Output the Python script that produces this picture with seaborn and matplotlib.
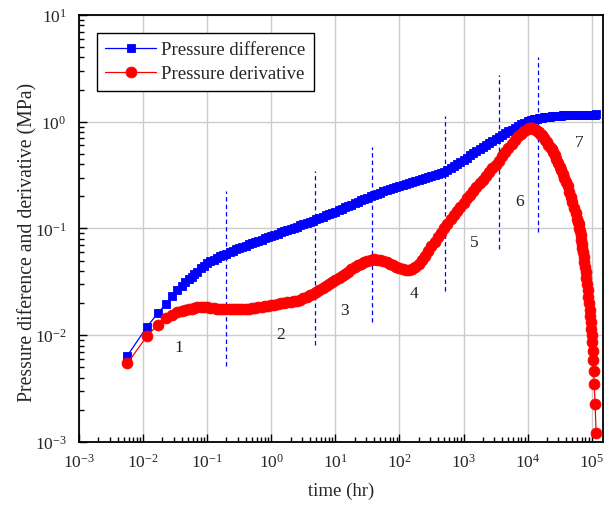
import numpy as np
import pandas as pd
import matplotlib
matplotlib.use("Agg")
import matplotlib.pyplot as plt
import seaborn as sns
from matplotlib.ticker import LogLocator

# time (hr)
time_hr = [
    0.0057, 0.0114, 0.0171, 0.0228, 0.0285, 0.0342, 0.0399, 0.0456, 0.0513, 0.057,
    0.0627, 0.0684, 0.08, 0.0891, 0.1, 0.112, 0.126, 0.141, 0.158, 0.178,
    0.2, 0.224, 0.251, 0.282, 0.316, 0.355, 0.398, 0.447, 0.501, 0.562,
    0.631, 0.708, 0.794, 0.891, 1.0, 1.12, 1.26, 1.41, 1.58, 1.78,
    2.0, 2.24, 2.51, 2.82, 3.16, 3.55, 3.98, 4.47, 5.01, 5.62,
    6.31, 7.08, 7.94, 8.91, 10, 11.2, 12.6, 14.1, 15.8, 17.8,
    20, 22.4, 25.1, 28.2, 31.6, 35.5, 39.8, 44.7, 50.1, 56.2,
    63.1, 70.8, 79.4, 89.1, 100, 112, 126, 141, 158, 178,
    200, 224, 251, 282, 316, 355, 398, 447, 501, 562,
    631, 708, 794, 891, 1000, 1120, 1260, 1410, 1580, 1780,
    2000, 2240, 2510, 2820, 3160, 3550, 3980, 4470, 5010, 5620,
    6310, 7080, 7940, 8910, 10000, 10600, 11200, 11900, 12600, 13300,
    14100, 15000, 15800, 16800, 17800, 18800, 20000, 21100, 22400, 23700,
    25100, 26600, 28200, 29900, 31600, 33500, 35500, 37600, 39800, 42200,
    44700, 47300, 50100, 53100, 56200, 59600, 61000, 62400, 63900, 65400,
    66900, 68500, 70100, 71700, 73400, 75100, 76900, 78700, 80500, 82400,
    84300, 86300, 88300, 90400, 92500, 94600, 96800, 99100, 101000, 102800,
    104200, 105700, 107400, 109600, 113000, 117200,
]

# pressure difference (MPa)
pressure_diff = [
    0.00646, 0.0119, 0.0162, 0.0197, 0.0234, 0.0265, 0.0292, 0.0316, 0.0335, 0.0354,
    0.0372, 0.0389, 0.0422, 0.0447, 0.0471, 0.0491, 0.0511, 0.0529, 0.0548, 0.0565,
    0.0582, 0.0600, 0.0618, 0.0637, 0.0656, 0.0674, 0.0692, 0.0711, 0.0730, 0.0748,
    0.0767, 0.0787, 0.0807, 0.0829, 0.0851, 0.0873, 0.0895, 0.0918, 0.0942, 0.0967,
    0.0993, 0.1016, 0.104, 0.107, 0.110, 0.1125, 0.115, 0.1185, 0.122, 0.1255,
    0.129, 0.1325, 0.136, 0.140, 0.144, 0.1485, 0.153, 0.1575, 0.162, 0.1675,
    0.173, 0.178, 0.183, 0.189, 0.195, 0.201, 0.207, 0.212, 0.217, 0.2225,
    0.228, 0.2335, 0.239, 0.245, 0.251, 0.256, 0.261, 0.267, 0.273, 0.279,
    0.284, 0.291, 0.297, 0.304, 0.311, 0.318, 0.326, 0.333, 0.340, 0.355,
    0.371, 0.387, 0.405, 0.423, 0.442, 0.462, 0.483, 0.506, 0.528, 0.553,
    0.578, 0.605, 0.632, 0.662, 0.693, 0.723, 0.752, 0.782, 0.813, 0.845,
    0.879, 0.912, 0.944, 0.979, 1.01, 1.02, 1.035, 1.045, 1.054, 1.064,
    1.071, 1.079, 1.086, 1.091, 1.096, 1.102, 1.109, 1.114, 1.119, 1.125,
    1.127, 1.132, 1.135, 1.138, 1.140, 1.143, 1.146, 1.148, 1.151, 1.153,
    1.156, 1.157, 1.159, 1.160, 1.161, 1.162, 1.162, 1.163, 1.163, 1.163,
    1.164, 1.164, 1.164, 1.165, 1.165, 1.165, 1.166, 1.166, 1.166, 1.166,
    1.167, 1.167, 1.167, 1.167, 1.168, 1.168, 1.168, 1.168, 1.168, 1.168,
    1.169, 1.169, 1.169, 1.169, 1.169, 1.170,
]

# pressure derivative (MPa)
pressure_deriv = [
    0.00546, 0.00977, 0.0126, 0.0145, 0.0156, 0.0165, 0.0169, 0.0172, 0.0175, 0.0178,
    0.0180, 0.0183, 0.0183, 0.0183, 0.0182, 0.0180, 0.0179, 0.0178, 0.0177, 0.0176,
    0.0175, 0.0175, 0.0175, 0.0175, 0.0176, 0.01765, 0.0177, 0.0178, 0.0179, 0.0181,
    0.0183, 0.0185, 0.0187, 0.0189, 0.0192, 0.0194, 0.0196, 0.01985, 0.0201, 0.02035,
    0.0206, 0.02085, 0.0211, 0.0216, 0.0221, 0.0229, 0.0237, 0.0245, 0.0253, 0.0264,
    0.0275, 0.0288, 0.0301, 0.0314, 0.0327, 0.0343, 0.0359, 0.0377, 0.0395, 0.0415,
    0.0434, 0.0451, 0.0468, 0.0482, 0.0495, 0.0505, 0.0513, 0.0512, 0.0507, 0.0495,
    0.0481, 0.0467, 0.0452, 0.0440, 0.0428, 0.0419, 0.0410, 0.0406, 0.0416, 0.0437,
    0.0468, 0.0509, 0.0558, 0.0617, 0.0679, 0.0750, 0.0828, 0.0912, 0.101, 0.111,
    0.122, 0.133, 0.146, 0.160, 0.175, 0.191, 0.207, 0.225, 0.244, 0.265,
    0.287, 0.312, 0.338, 0.366, 0.397, 0.432, 0.473, 0.519, 0.569, 0.624,
    0.676, 0.728, 0.776, 0.819, 0.851, 0.867, 0.871, 0.869, 0.859, 0.843,
    0.822, 0.802, 0.776, 0.745, 0.711, 0.676, 0.643, 0.610, 0.578, 0.551,
    0.524, 0.484, 0.447, 0.412, 0.380, 0.351, 0.324, 0.299, 0.275, 0.248,
    0.221, 0.197, 0.176, 0.157, 0.140, 0.123, 0.116, 0.110, 0.102, 0.0944,
    0.0861, 0.0785, 0.0716, 0.0653, 0.0596, 0.0537, 0.0484, 0.0437, 0.0389, 0.0347,
    0.0302, 0.0263, 0.0229, 0.0200, 0.0174, 0.0151, 0.0132, 0.0115, 0.0100, 0.00859,
    0.00716, 0.00589, 0.00466, 0.00349, 0.00227, 0.00121,
]

# flow-regime boundaries (dashed lines)
boundary_time = [0.2, 4.9, 36.7, 510, 3550, 14700]
boundary_low = [0.0052, 0.0081, 0.0134, 0.0261, 0.0643, 0.092]
boundary_high = [0.226, 0.347, 0.577, 1.12, 2.76, 4.01]

# flow-regime numbers
regime_labels = ["1", "2", "3", "4", "5", "6", "7"]
regime_time = [0.0362, 1.41, 14.1, 167, 1462, 7530, 63400]
regime_value = [0.00781, 0.0103, 0.0173, 0.0247, 0.0743, 0.180, 0.643]

sns.set_style("ticks")
plt.rcParams["font.family"] = ["Liberation Serif", "DejaVu Serif"]
plt.rcParams["mathtext.fontset"] = "custom"
plt.rcParams["mathtext.rm"] = "Liberation Serif"
plt.rcParams["mathtext.it"] = "Liberation Serif:italic"

df = pd.DataFrame({"time": time_hr, "diff": pressure_diff, "deriv": pressure_deriv})

fig = plt.figure(figsize=(6.1, 5.06), dpi=100)
ax = fig.add_axes([0.1295, 0.1245, 0.859, 0.8439])

sns.lineplot(data=df, x="time", y="diff", ax=ax, color="blue", linewidth=0.9,
             marker="s", markersize=6.4, markeredgecolor="blue", markeredgewidth=0.6,
             estimator=None, sort=False, label="Pressure difference", zorder=3)
sns.lineplot(data=df, x="time", y="deriv", ax=ax, color="red", linewidth=0.9,
             marker="o", markersize=7.8, markeredgecolor="red", markeredgewidth=0.6,
             estimator=None, sort=False, label="Pressure derivative", zorder=4)

ax.vlines(boundary_time, boundary_low, boundary_high, colors="blue",
          linestyles=(0, (3.5, 2.5)), linewidth=0.9, zorder=2)

for lab, tx, vy in zip(regime_labels, regime_time, regime_value):
    ax.text(tx, vy, lab, fontsize=12.5, ha="center", va="center", color="#222222", zorder=5)

ax.set_xscale("log")
ax.set_yscale("log")
ax.set_xlim(1e-3, 1.5e5)
ax.set_ylim(1e-3, 10)
ax.xaxis.set_major_locator(LogLocator(base=10, numticks=20))
ax.xaxis.set_minor_locator(LogLocator(base=10, subs=np.arange(2, 10), numticks=20))
ax.yaxis.set_major_locator(LogLocator(base=10, numticks=20))
ax.yaxis.set_minor_locator(LogLocator(base=10, subs=np.arange(2, 10), numticks=20))

ax.grid(True, which="major", color="#cccccc", linewidth=1, zorder=0)
ax.set_axisbelow(True)
ax.tick_params(which="both", direction="in", top=False, right=False, labelsize=12.5,
               width=1, color="black")
ax.tick_params(which="major", length=6)
ax.tick_params(axis="x", which="major", pad=8)
ax.tick_params(axis="y", which="major", pad=9)
ax.tick_params(which="minor", length=3.5)
for sp in ax.spines.values():
    sp.set_linewidth(1.3)
    sp.set_color("black")

ax.set_xlabel("time (hr)", fontsize=13.5, labelpad=8)
ax.set_ylabel("Pressure diference and derivative (MPa)", fontsize=14.2)
ax.yaxis.set_label_coords(-0.08, 0.47)

leg = ax.legend(loc="upper left", bbox_to_anchor=(0.034, 0.958), borderaxespad=0,
                fontsize=13.5, fancybox=False, framealpha=1, edgecolor="black",
                handlelength=2.7, handletextpad=0.3, borderpad=0.45, labelspacing=0.35)
leg.get_frame().set_linewidth(1.0)

fig.savefig("out.png", dpi=100)
